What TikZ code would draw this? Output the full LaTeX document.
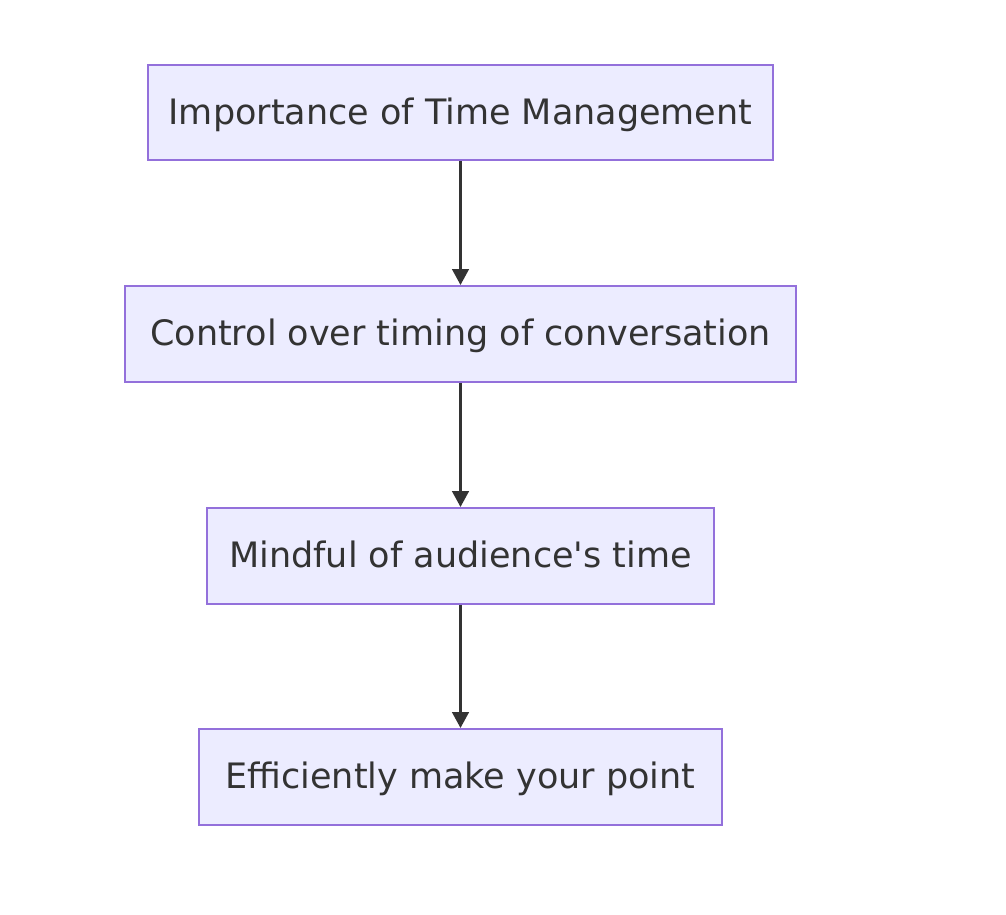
\documentclass[tikz,border=0pt]{standalone}
\usepackage{fontspec}
\setmainfont{DejaVu Sans}
\usepackage{tikz}
\usetikzlibrary{arrows.meta,positioning}
\definecolor{boxfill}{HTML}{ECECFF}
\definecolor{boxline}{HTML}{9370DB}
\definecolor{linkgray}{HTML}{333333}
\tikzset{
  stepbox/.style={rectangle,draw=boxline,line width=0.6pt,fill=boxfill,minimum height=0.955cm,inner sep=0pt,text height=0.9em,text depth=0.24em,font=\fontsize{9.95}{11}\selectfont,text=linkgray},
  link/.style={-{Triangle[length=0.16cm,width=0.16cm]},linkgray,line width=1.1pt}
}
\begin{document}
\begin{tikzpicture}[x=0.01cm,y=-0.01cm]
\useasboundingbox (0,0) rectangle (1006,914);
\node[stepbox,minimum width=6.25cm] (s0) at (460.5,112.5) {Importance of Time Management};
\node[stepbox,minimum width=6.71cm] (s1) at (460.5,334) {Control over timing of conversation};
\node[stepbox,minimum width=5.07cm] (s2) at (460.5,556) {Mindful of audience\textquotesingle s time};
\node[stepbox,minimum width=5.23cm] (s3) at (460.5,777) {Efficiently make your point};
\draw[link] (s0.south) -- (s1.north);
\draw[link] (s1.south) -- (s2.north);
\draw[link] (s2.south) -- (s3.north);
\end{tikzpicture}
\end{document}
